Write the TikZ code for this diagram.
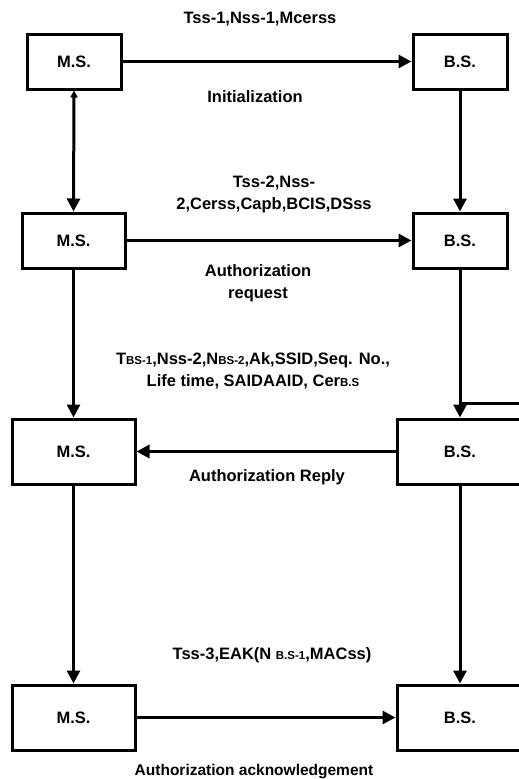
\documentclass[tikz,border=0pt]{standalone}
\usepackage{fontspec}
\setmainfont{Liberation Sans}
\usetikzlibrary{arrows.meta}
\newcommand{\smalltxt}[1]{{\fontsize{11.5}{13}\selectfont #1}}
\begin{document}
\begin{tikzpicture}[x=1pt,y=-1pt,
  every node/.style={font=\fontsize{16.5}{22}\selectfont\bfseries},
  station/.style={draw,line width=3pt,inner sep=0pt},
  msg/.style={align=center,inner sep=0pt},
  link/.style={line width=3pt,-{Triangle[length=13pt,width=13pt]}},
  backlink/.style={line width=3pt,{Triangle[length=7pt,width=7pt]}-{Triangle[length=13pt,width=13pt]}},
  plain/.style={line width=3pt}]
\useasboundingbox (0,0) rectangle (519,779);
% stations, row by row
\node[station,minimum width=94pt,minimum height=55pt]  (ms1) at (74,61.5)   {M.S.};
\node[station,minimum width=94pt,minimum height=55pt]  (bs1) at (460,61.5)  {B.S.};
\node[station,minimum width=103pt,minimum height=55pt] (ms2) at (73.5,240.5) {M.S.};
\node[station,minimum width=94pt,minimum height=55pt]  (bs2) at (460,240.5) {B.S.};
\node[station,minimum width=123pt,minimum height=65pt] (ms3) at (73.5,451.5) {M.S.};
\node[station,minimum width=126pt,minimum height=65pt] (bs3) at (460,451.5) {B.S.};
\node[station,minimum width=123pt,minimum height=65pt] (ms4) at (73.5,717.5) {M.S.};
\node[station,minimum width=126pt,minimum height=65pt] (bs4) at (460,717.5) {B.S.};
% message labels
\node[msg] (l1) at (260,19)  {Tss-1,Nss-1,Mcerss};
\node[msg] (l2) at (255,97)  {Initialization};
\node[msg] (l3) at (274,194) {Tss-2,Nss-\\2,Cerss,Capb,BCIS,DSss};
\node[msg] (l4) at (258,283) {Authorization\\request};
\node[msg] (l5) at (253,371) {T\smalltxt{BS-1},Nss-2,N\smalltxt{BS-2},Ak,SSID,Seq. No.,\\Life time, SAIDAAID, Cer\smalltxt{B.S}};
\node[msg] (l6) at (267,477) {Authorization Reply};
\node[msg] (l7) at (272,655) {Tss-3,EAK(N \smalltxt{B.S-1},MACss)};
\node[msg,font=\fontsize{15.5}{22}\selectfont\bfseries] (l8) at (254,772) {Authorization acknowledgement};
% horizontal messages
\draw[link] (ms1) -- (bs1);
\draw[link] (ms2) -- (bs2);
\draw[link] (bs3) -- (ms3);
\draw[link] (ms4) -- (bs4);
% vertical transitions
\draw[backlink] (ms1.south) -- (ms2.north);
\draw[link] (bs1.south) -- (bs2.north);
\draw[link] (ms2.south) -- (ms3.north);
\draw[link] (bs2.south) -- (bs3.north);
\draw[link] (ms3.south) -- (ms4.north);
\draw[link] (bs3.south) -- (bs4.north);
% side branch leaving the B.S. line
\coordinate (branch) at (460,403);
\coordinate (edge) at (525,403);
\draw[plain] (branch) -- (edge);
\end{tikzpicture}
\end{document}
